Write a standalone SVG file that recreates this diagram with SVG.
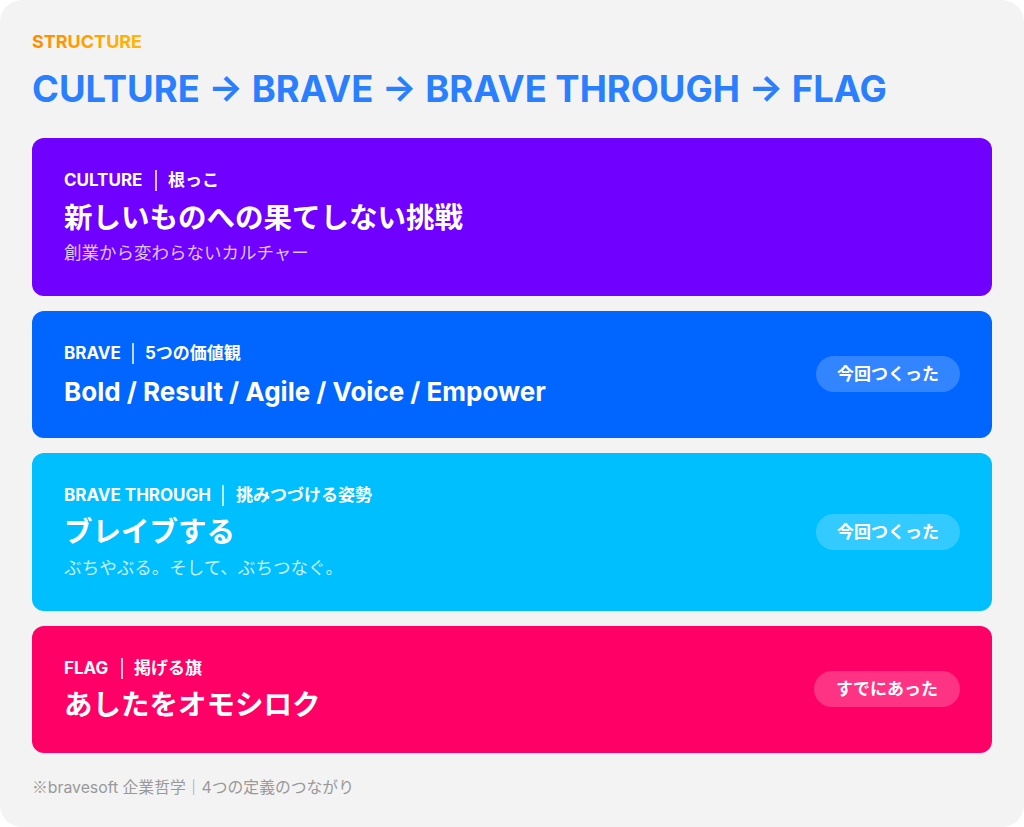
<svg xmlns="http://www.w3.org/2000/svg" width="1024" height="827" viewBox="0 0 1024 827">
<defs>
<linearGradient id="gOrange" x1="0" y1="0" x2="1" y2="0">
<stop offset="0" stop-color="#ff8a00"/>
<stop offset="1" stop-color="#ffb800"/>
</linearGradient>
</defs>
<style>
text{font-family:Inter,"Noto Sans CJK JP",sans-serif;}
.lbl{font-size:17px;font-weight:700;fill:#fff;}
.ttl{font-size:28.5px;font-weight:700;fill:#fff;}
.ttlL{font-size:26px;font-weight:700;fill:#fff;}
.sub{font-size:17.5px;font-weight:400;fill:#fff;fill-opacity:0.78;}
.sep{stroke:#fff;stroke-width:1.5;}
.pill{fill:#fff;fill-opacity:0.2;}
.ptx{font-size:17px;font-weight:700;fill:#fff;text-anchor:middle;}
.cjk{font-family:"Noto Sans CJK JP",sans-serif;}
</style>
<rect x="0" y="0" width="1024" height="827" fill="#fff"/>
<rect x="0" y="0" width="1024" height="827" rx="22" fill="#f3f3f3"/>
<g id="header">
<text x="32" y="48" font-size="18" font-weight="700" fill="url(#gOrange)">STRUCTURE</text>
<text x="32" y="102" font-size="36.4" font-weight="700" fill="#2a7fff">CULTURE → BRAVE → BRAVE THROUGH → FLAG</text>
</g>
<g id="connectors"></g>
<g id="culture">
<rect x="32" y="138" width="960" height="158" rx="12" fill="#7000ff"/>
<text class="lbl" x="64" y="186">CULTURE</text>
<line class="sep" x1="156" y1="170" x2="156" y2="191"/>
<text class="lbl" x="168" y="186">根っこ</text>
<text class="ttl" x="64" y="228">新しいものへの果てしない挑戦</text>
<text class="sub" x="64" y="259">創業から変わらないカルチャー</text>
</g>
<g id="brave">
<rect x="32" y="311" width="960" height="127" rx="12" fill="#0066ff"/>
<text class="lbl" x="64" y="359">BRAVE</text>
<line class="sep" x1="133" y1="343" x2="133" y2="364"/>
<text class="lbl" x="145" y="359">5つの価値観</text>
<text class="ttlL" x="64" y="401">Bold / Result / Agile / Voice / Empower</text>
<rect class="pill" x="816" y="356" width="144" height="36" rx="18"/>
<text class="ptx" x="888" y="380">今回つくった</text>
</g>
<g id="brave-through">
<rect x="32" y="453" width="960" height="158" rx="12" fill="#00bfff"/>
<text class="lbl" x="64" y="501">BRAVE THROUGH</text>
<line class="sep" x1="223" y1="485" x2="223" y2="506"/>
<text class="lbl" x="236" y="501">挑みつづける姿勢</text>
<text class="ttl" x="64" y="542">ブレイブする</text>
<text class="sub" x="64" y="574">ぶちやぶる。そして、ぶちつなぐ。</text>
<rect class="pill" x="816" y="514" width="144" height="36" rx="18"/>
<text class="ptx" x="888" y="538">今回つくった</text>
</g>
<g id="flag">
<rect x="32" y="626" width="960" height="127" rx="12" fill="#ff0066"/>
<text class="lbl" x="64" y="674">FLAG</text>
<line class="sep" x1="122" y1="658" x2="122" y2="679"/>
<text class="lbl" x="134" y="674">掲げる旗</text>
<text class="ttl" x="64" y="715">あしたをオモシロク</text>
<rect class="pill" x="814" y="671" width="146" height="36" rx="18"/>
<text class="ptx" x="887" y="695">すでにあった</text>
</g>
<g id="footer">
<text x="32" y="793" font-size="15.8" fill="#999"><tspan class="cjk">※</tspan>bravesoft 企業哲学｜4つの定義のつながり</text>
</g>
</svg>
